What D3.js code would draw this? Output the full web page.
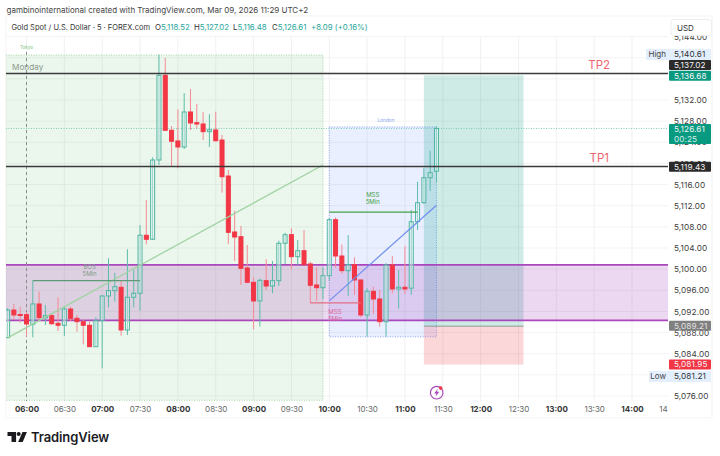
<!DOCTYPE html>
<html>
<head>
<meta charset="utf-8">
<script src="https://cdn.jsdelivr.net/npm/d3@7"></script>
<style>
  html, body { margin: 0; padding: 0; background: #fff; }
  text { font-family: Inter, "Noto Sans", sans-serif; }
</style>
</head>
<body>
<svg id="chart" width="720" height="456"></svg>
<script>
// Candles: 5 minute bars, first bar is 05:45
const firstBarMinute = -15;
const barMinutes = 5;
const opens = [5087.03,5092.27,5091.42,5091.38,5089.57,5093.41,5090.82,5091.20,5089.76,5089.38,5092.46,5090.70,5090.06,5089.38,5085.33,5090.25,5094.92,5095.93,5096.57,5088.49,5094.68,5095.43,5106.41,5105.65,5120.65,5136.67,5126.27,5124.25,5123.11,5129.73,5127.71,5127.46,5126.01,5126.33,5124.43,5117.62,5107.03,5106.14,5100.22,5097.51,5093.98,5097.82,5096.81,5097.82,5104.89,5106.52,5102.36,5103.49,5100.98,5097.00,5096.49,5098.76,5109.36,5102.49,5099.71,5100.84,5097.95,5091.33,5095.81,5094.35,5090.06,5100.79,5096.25,5096.57,5096.40,5108.98,5112.57,5117.30,5118.52];
const highs = [5092.60,5093.41,5092.90,5091.90,5097.83,5095.74,5093.22,5091.52,5094.68,5092.90,5092.90,5091.33,5090.57,5090.25,5090.89,5095.11,5102.05,5099.33,5097.82,5103.76,5099.84,5108.35,5113.08,5121.16,5140.61,5139.95,5127.08,5130.24,5133.27,5134.08,5131.25,5129.68,5129.30,5129.79,5125.38,5118.76,5111.06,5108.17,5104.57,5098.46,5098.20,5101.87,5101.54,5105.38,5106.90,5107.73,5105.52,5107.41,5101.41,5100.35,5100.35,5109.62,5109.81,5104.63,5106.46,5102.24,5098.00,5096.38,5096.68,5096.06,5101.11,5102.49,5099.84,5104.38,5111.19,5116.55,5119.08,5122.41,5127.02];
const lows = [5087.00,5090.38,5089.87,5087.22,5087.11,5090.06,5089.44,5089.44,5088.30,5087.36,5090.19,5088.17,5085.79,5085.33,5085.33,5081.21,5092.78,5093.84,5087.41,5087.54,5092.78,5092.14,5104.70,5105.52,5119.71,5126.14,5119.52,5119.08,5122.73,5126.33,5126.65,5124.43,5123.11,5124.11,5114.46,5104.76,5101.54,5097.00,5097.51,5088.62,5089.12,5096.06,5095.43,5096.81,5100.98,5099.97,5100.79,5100.84,5093.54,5094.03,5094.30,5097.82,5100.28,5099.08,5094.92,5095.11,5090.89,5087.22,5091.52,5089.12,5087.22,5095.43,5092.52,5095.30,5095.11,5107.41,5112.33,5114.79,5116.48];
const closes = [5092.27,5091.33,5091.33,5089.63,5093.41,5090.82,5091.20,5089.68,5089.38,5092.46,5090.63,5090.06,5089.38,5085.33,5090.25,5094.92,5095.93,5096.68,5088.49,5094.68,5095.43,5106.41,5105.65,5120.65,5136.67,5126.27,5124.19,5123.11,5129.73,5127.65,5127.46,5126.01,5126.38,5124.30,5117.49,5106.97,5106.08,5100.16,5097.51,5093.98,5097.89,5096.81,5097.82,5104.89,5106.52,5102.36,5103.49,5100.84,5096.95,5096.49,5098.76,5109.36,5102.49,5099.71,5100.84,5097.95,5091.33,5095.81,5094.35,5090.06,5100.79,5096.25,5096.57,5096.25,5108.98,5112.57,5117.30,5118.25,5126.61];

// Axes
const timeTicks = [0,30,60,90,120,150,180,210,240,270,300,330,360,390,420,450,480,510];
const timeLabels = ['06:00','06:30','07:00','07:30','08:00','08:30','09:00','09:30','10:00','10:30','11:00','11:30','12:00','12:30','13:00','13:30','14:00','14'];
const gridPrices = [5076,5080,5084,5088,5092,5096,5100,5104,5108,5112,5116,5120,5124,5128,5132,5136,5140,5144];
// 5,080 5,136 and 5,140 sit fully under the tags, so they get no label
const priceTicks = [5076,5084,5088,5092,5096,5100,5104,5108,5112,5116,5120,5124,5128,5132,5144];

// Drawings on the chart, in price and minutes after 06:00
const mondayZone = [-40, 235, 5140.5, 5075.2];
const londonBox = [240, 325, 5126.9, 5087.2];
const purpleZone = [5100.8, 5090.3];
const tpLevels = [5137.02, 5119.43];
const tpNames = ['TP2', 'TP1'];
const tpMinute = 454;
const longPosition = [315, 394, 5136.68, 5089.21, 5081.95];
const lastPrice = 5126.61;
const tokyoMinute = 0;
const greenTrend = [[-15, 5087.0], [235, 5119.7]];
const blueTrend = [[240, 5094.0], [325, 5112.1]];
const bosLine = [5, 90, 5097.83];
const mssGreenLine = [240, 310, 5110.8];
const mssRedLine = [225, 265, 5093.6];

// Price tags on the right hand scale
const tagPrices = [5137.02, 5136.68, 5119.43, 5089.21, 5081.95];
const tagTexts = ['5,137.02', '5,136.68', '5,119.43', '5,089.21', '5,081.95'];
const tagColors = ['#2a2a2a', '#089981', '#2a2a2a', '#808080', '#f23645'];
const tagShifts = [-8.5, 0.6, 0.3, -0.4, 0];

const svg = d3.select('#chart');
const plotLeft = 6, plotRight = 668, plotTop = 16, plotBottom = 401;

const x = d3.scaleLinear().domain([0, 480]).range([26.5, 632]);
const y = d3.scaleLinear().domain([5076, 5132]).range([396, 100]);

svg.append('clipPath').attr('id', 'plotClip').append('rect')
    .attr('x', plotLeft).attr('y', plotTop)
    .attr('width', plotRight - plotLeft).attr('height', plotBottom - plotTop);

// Panel frame
svg.append('rect').attr('x', plotLeft).attr('y', plotTop)
    .attr('width', 706).attr('height', 402)
    .attr('fill', '#fff').attr('stroke', '#f3f3f3');

const plot = svg.append('g').attr('clip-path', 'url(#plotClip)');

// Grid
plot.append('g').selectAll('line').data(gridPrices).enter().append('line')
    .attr('x1', plotLeft).attr('x2', plotRight)
    .attr('y1', d => y(d)).attr('y2', d => y(d))
    .attr('stroke', '#f3f3f3');
plot.append('g').selectAll('line').data(timeTicks).enter().append('line')
    .attr('x1', d => x(d)).attr('x2', d => x(d))
    .attr('y1', 37).attr('y2', plotBottom)
    .attr('stroke', '#f1f1f1');

function box(parent, x0, x1, p0, p1) {
    return parent.append('rect')
        .attr('x', x(x0)).attr('width', x(x1) - x(x0))
        .attr('y', y(p0)).attr('height', y(p1) - y(p0));
}

// Monday session
box(plot, mondayZone[0], mondayZone[1], mondayZone[2], mondayZone[3])
    .attr('fill', 'rgba(76,175,80,0.11)')
    .attr('stroke', '#a5d6a7').attr('stroke-dasharray', '1 1.5');
plot.append('text').attr('x', 12).attr('y', 70)
    .attr('font-size', 8.2).attr('fill', '#8c9a8e').text('Monday');

// London session
box(plot, londonBox[0], londonBox[1], londonBox[2], londonBox[3])
    .attr('fill', 'rgba(41,98,255,0.10)')
    .attr('stroke', '#8fa9f5').attr('stroke-dasharray', '1 1.5');

// Long position
box(plot, longPosition[0], longPosition[1], longPosition[2], longPosition[3])
    .attr('fill', 'rgba(8,153,129,0.2)');
box(plot, longPosition[0], longPosition[1], longPosition[3], longPosition[4])
    .attr('fill', 'rgba(242,54,69,0.2)');
plot.append('line')
    .attr('x1', x(longPosition[0])).attr('x2', x(longPosition[1]))
    .attr('y1', y(longPosition[3])).attr('y2', y(longPosition[3]))
    .attr('stroke', '#8a9a94');

// Purple zone
plot.append('rect').attr('x', plotLeft).attr('width', plotRight - plotLeft)
    .attr('y', y(purpleZone[0])).attr('height', y(purpleZone[1]) - y(purpleZone[0]))
    .attr('fill', 'rgba(156,39,176,0.18)');
purpleZone.forEach(p => {
    plot.append('line').attr('x1', plotLeft).attr('x2', plotRight)
        .attr('y1', y(p)).attr('y2', y(p))
        .attr('stroke', '#ab47bc').attr('stroke-width', 1.8);
});

// Tokyo open and last price
plot.append('line').attr('x1', x(tokyoMinute)).attr('x2', x(tokyoMinute))
    .attr('y1', 52).attr('y2', plotBottom)
    .attr('stroke', '#8a8f8c').attr('stroke-dasharray', '3 3');
plot.append('text').attr('x', x(tokyoMinute)).attr('y', 49).attr('text-anchor', 'middle')
    .attr('font-size', 4.6).attr('fill', '#7cc47f').text('Tokyo');
plot.append('line').attr('x1', plotLeft).attr('x2', plotRight)
    .attr('y1', y(lastPrice)).attr('y2', y(lastPrice))
    .attr('stroke', '#7fcdbb').attr('stroke-dasharray', '1 1.5');
plot.append('text').attr('x', x(285)).attr('y', 121.5).attr('text-anchor', 'middle')
    .attr('font-size', 4.8).attr('fill', '#8fa9f0').text('London');

// Candles
const candles = opens.map((o, i) => ({
    minute: firstBarMinute + i * barMinutes,
    open: o, high: highs[i], low: lows[i], close: closes[i]
}));
const candle = plot.append('g').selectAll('g').data(candles).enter().append('g');
candle.append('line')
    .attr('x1', d => x(d.minute)).attr('x2', d => x(d.minute))
    .attr('y1', d => y(d.high)).attr('y2', d => y(d.low))
    .attr('stroke', d => d.close >= d.open ? '#5dbcaa' : '#f58a94')
    .attr('stroke-width', 1);
candle.append('rect')
    .attr('x', d => x(d.minute) - 2)
    .attr('width', 4)
    .attr('y', d => y(Math.max(d.open, d.close)))
    .attr('height', d => Math.max(1, Math.abs(y(d.open) - y(d.close))))
    .attr('fill', d => d.close >= d.open ? 'rgba(255,255,255,0.35)' : '#f23645')
    .attr('stroke', d => d.close >= d.open ? '#4fb5a2' : '#f23645')
    .attr('stroke-width', 1);

// Trend lines
const trend = d3.line().x(d => x(d[0])).y(d => y(d[1]));
plot.append('path').attr('d', trend(greenTrend)).attr('fill', 'none')
    .attr('stroke', '#9dd3a0').attr('stroke-width', 1.2);
plot.append('path').attr('d', trend(blueTrend)).attr('fill', 'none')
    .attr('stroke', '#6f8ff0').attr('stroke-width', 1.2);

// Structure breaks
function breakLine(line, color) {
    plot.append('line').attr('x1', x(line[0])).attr('x2', x(line[1]))
        .attr('y1', y(line[2])).attr('y2', y(line[2]))
        .attr('stroke', color).attr('stroke-width', 1.2);
}
breakLine(bosLine, '#5f9a78');
breakLine(mssGreenLine, '#43a047');
breakLine(mssRedLine, '#e57083');

function twoLines(px, py, first, color) {
    [first, '5Min'].forEach((t, i) => {
        plot.append('text').attr('x', px).attr('y', py + i * 7)
            .attr('text-anchor', 'middle').attr('font-size', 6)
            .attr('fill', color).text(t);
    });
}
twoLines(x(50), 269, 'BOS', '#7e9a88');
twoLines(x(274.5), 197, 'MSS', '#43a047');
twoLines(x(244.5), 314, 'MSS', '#e0659a');

// TP levels
tpLevels.forEach((p, i) => {
    plot.append('line').attr('x1', plotLeft).attr('x2', plotRight)
        .attr('y1', y(p)).attr('y2', y(p))
        .attr('stroke', '#3b3b3b').attr('stroke-width', 1.6);
    plot.append('text').attr('x', x(tpMinute)).attr('y', y(p) - 4.5)
        .attr('text-anchor', 'middle').attr('font-size', 11.5)
        .attr('fill', '#ee6570').text(tpNames[i]);
});

// Lightning marker
const bolt = svg.append('g').attr('transform', 'translate(436.7,392.7)');
bolt.append('circle').attr('r', 6.3).attr('fill', '#fff')
    .attr('stroke', '#ab47bc').attr('stroke-width', 1.2);
bolt.append('path').attr('d', 'M1.2,-4 L-2.6,0.7 L-0.3,0.7 L-1.2,4 L2.6,-0.9 L0.3,-0.9 Z')
    .attr('fill', '#ab47bc');
bolt.append('circle').attr('cx', 4).attr('cy', -4.6).attr('r', 1.8).attr('fill', '#f23645');

// Price axis
const priceAxis = d3.axisRight(y).tickValues(priceTicks)
    .tickFormat(d3.format(',.2f')).tickSize(0).tickPadding(0);
const priceG = svg.append('g').attr('transform', 'translate(674,0)').call(priceAxis);
priceG.select('.domain').remove();
priceG.selectAll('text').attr('font-size', 8.2).attr('fill', '#3d3d3d')
    .style('font-family', 'Inter').style('letter-spacing', '0.1px');

// Time axis
const timeAxis = d3.axisBottom(x).tickValues(timeTicks)
    .tickFormat((d, i) => timeLabels[i]).tickSize(0).tickPadding(0);
const timeG = svg.append('g').attr('transform', 'translate(0,406)').call(timeAxis);
timeG.select('.domain').remove();
timeG.selectAll('text')
    .attr('font-size', 8)
    .attr('font-weight', (d, i) => i % 2 === 0 ? 700 : 400)
    .attr('fill', (d, i) => i % 2 === 0 ? '#333' : '#666')
    .attr('dx', (d, i) => i === timeTicks.length - 1 ? -7 : 0)
    .style('font-family', 'Inter');

// Tags on the price scale
function tag(cy, h, fill, label, color) {
    svg.append('rect').attr('x', 669).attr('y', cy - h / 2).attr('width', 42).attr('height', h)
        .attr('rx', 1).attr('fill', fill);
    svg.append('text').attr('x', 674).attr('y', cy + 2.9).attr('font-size', 8.2)
        .attr('letter-spacing', '0.1').attr('fill', color).text(label);
}
tagPrices.forEach((p, i) => {
    tag(y(p) + tagShifts[i], 10, tagColors[i], tagTexts[i], i === 3 ? '#e0e0e0' : '#f5f5f5');
});

// Last price with countdown
svg.append('rect').attr('x', 669).attr('y', 124).attr('width', 42).attr('height', 20)
    .attr('rx', 1).attr('fill', '#089981');
svg.append('text').attr('x', 674).attr('y', 132).attr('font-size', 8.2).attr('letter-spacing', '0.1')
    .attr('fill', '#e8f7f3').text('5,126.61');
svg.append('text').attr('x', 674).attr('y', 141.5).attr('font-size', 8.2).attr('letter-spacing', '0.1')
    .attr('fill', '#d2efe8').text('00:25');

// High and low tags
function extreme(cy, name, value, left) {
    svg.append('rect').attr('x', left).attr('y', cy - 5.5).attr('width', 711 - left).attr('height', 11)
        .attr('fill', '#e3effd');
    svg.append('text').attr('x', 666).attr('y', cy + 2.9).attr('text-anchor', 'end')
        .attr('font-size', 8).attr('fill', '#444').text(name);
    svg.append('text').attr('x', 674).attr('y', cy + 2.9).attr('font-size', 8.2)
        .attr('letter-spacing', '0.1').attr('fill', '#333').text(value);
}
extreme(54.5, 'High', '5,140.61', 646);
extreme(376.5, 'Low', '5,081.21', 649);

// USD box
svg.append('rect').attr('x', 671).attr('y', 19.5).attr('width', 40.5).attr('height', 16)
    .attr('rx', 2.5).attr('fill', '#fff').attr('stroke', '#eeeeee');
svg.append('text').attr('x', 677).attr('y', 30.5).attr('font-size', 8)
    .attr('fill', '#333').text('USD');

// Titles
svg.append('text').attr('x', 6.5).attr('y', 12.5).attr('font-size', 8)
    .attr('fill', '#444').text('gambinointernational created with TradingView.com, Mar 09, 2026 11:29 UTC+2');

svg.append('text').attr('x', 11.5).attr('y', 29.5).attr('font-size', 7.5).attr('fill', '#333')
    .text('Gold Spot / U.S. Dollar · 5 · FOREX.com');
const ohlcNames = ['O', 'H', 'L', 'C'];
const ohlcValues = ['5,118.52', '5,127.02', '5,116.48', '5,126.61'];
const ohlcSlots = [155, 194, 233, 272];
ohlcNames.forEach((n, i) => {
    const item = svg.append('text').attr('x', ohlcSlots[i]).attr('y', 29.5)
        .attr('font-size', 7.8).attr('fill', '#333');
    item.append('tspan').text(n);
    item.append('tspan').attr('fill', '#26a69a').text(ohlcValues[i]);
});
svg.append('text').attr('x', 311).attr('y', 29.5).attr('font-size', 7.8)
    .attr('fill', '#26a69a').text('+8.09 (+0.16%)');

// TradingView logo
const logo = svg.append('g').attr('transform', 'translate(7.5,432)').attr('fill', '#1b1b1f');
logo.append('path').attr('d', 'M0,0 H8.6 V10 H4 V4 H0 Z');
logo.append('circle').attr('cx', 11.2).attr('cy', 2).attr('r', 2);
logo.append('path').attr('d', 'M15,0 H19.4 L15.2,10 H10.6 Z');
svg.append('text').attr('x', 31).attr('y', 442).attr('font-size', 13).attr('font-weight', 600)
    .attr('fill', '#1b1b1f').attr('letter-spacing', '-0.1').text('TradingView');
</script>
</body>
</html>
